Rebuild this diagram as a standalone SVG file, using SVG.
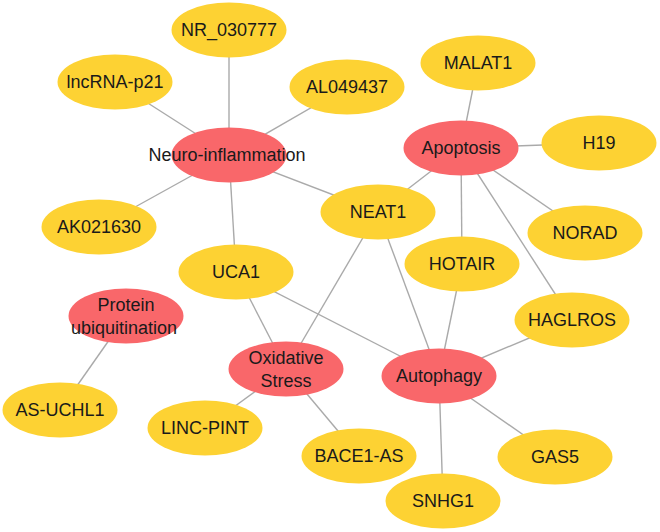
<svg xmlns="http://www.w3.org/2000/svg" width="660" height="532" viewBox="0 0 660 532">
<style>
.e{stroke:#aaaaaa;stroke-width:1.4;fill:none}
.y{fill:#fdd233}
.r{fill:#f9676a}
text{font-family:"Liberation Sans",Arial,sans-serif;font-size:18px;fill:#1a1a1a;text-anchor:middle;dominant-baseline:central}
</style>
<rect width="660" height="532" fill="#ffffff"/>
<g id="edges">
<line class="e" x1="229" y1="155" x2="229" y2="30"/>
<line class="e" x1="229" y1="155" x2="115" y2="82"/>
<line class="e" x1="229" y1="155" x2="347" y2="87"/>
<line class="e" x1="229" y1="155" x2="99" y2="227"/>
<line class="e" x1="229" y1="155" x2="236" y2="272"/>
<line class="e" x1="229" y1="155" x2="378" y2="212"/>
<line class="e" x1="461" y1="148" x2="478" y2="63"/>
<line class="e" x1="461" y1="148" x2="599" y2="143"/>
<line class="e" x1="461" y1="148" x2="378" y2="212"/>
<line class="e" x1="461" y1="148" x2="462" y2="264"/>
<line class="e" x1="461" y1="148" x2="585" y2="233"/>
<line class="e" x1="461" y1="148" x2="572" y2="320"/>
<line class="e" x1="439" y1="376" x2="378" y2="212"/>
<line class="e" x1="439" y1="376" x2="462" y2="264"/>
<line class="e" x1="439" y1="376" x2="572" y2="320"/>
<line class="e" x1="439" y1="376" x2="236" y2="272"/>
<line class="e" x1="439" y1="376" x2="555" y2="457"/>
<line class="e" x1="439" y1="376" x2="443" y2="501"/>
<line class="e" x1="286" y1="369" x2="236" y2="272"/>
<line class="e" x1="286" y1="369" x2="378" y2="212"/>
<line class="e" x1="286" y1="369" x2="205" y2="428"/>
<line class="e" x1="286" y1="369" x2="359" y2="456"/>
<line class="e" x1="126" y1="316" x2="60" y2="410"/>
</g>
<g id="n-nr030777"><ellipse class="y" cx="229" cy="30" rx="57.5" ry="27.5"/><text x="229" y="30">NR_030777</text></g>
<g id="n-lncrna-p21"><ellipse class="y" cx="115" cy="82" rx="57.5" ry="27.5"/><text x="115" y="82">lncRNA-p21</text></g>
<g id="n-al049437"><ellipse class="y" cx="347" cy="87" rx="57.5" ry="27.5"/><text x="347" y="87">AL049437</text></g>
<g id="n-ak021630"><ellipse class="y" cx="99" cy="227" rx="57.5" ry="27.5"/><text x="99" y="227">AK021630</text></g>
<g id="n-neuro"><ellipse class="r" cx="229" cy="155" rx="57.5" ry="27.5"/><text x="227" y="155">Neuro-inflammation</text></g>
<g id="n-uca1"><ellipse class="y" cx="236" cy="272" rx="57.5" ry="27.5"/><text x="236" y="272">UCA1</text></g>
<g id="n-neat1"><ellipse class="y" cx="378" cy="212" rx="57.5" ry="27.5"/><text x="378" y="212">NEAT1</text></g>
<g id="n-malat1"><ellipse class="y" cx="478" cy="63" rx="57.5" ry="27.5"/><text x="478" y="63">MALAT1</text></g>
<g id="n-h19"><ellipse class="y" cx="599" cy="143" rx="57.5" ry="27.5"/><text x="599" y="143">H19</text></g>
<g id="n-apoptosis"><ellipse class="r" cx="461" cy="148" rx="57.5" ry="27.5"/><text x="461" y="148">Apoptosis</text></g>
<g id="n-norad"><ellipse class="y" cx="585" cy="233" rx="57.5" ry="27.5"/><text x="585" y="233">NORAD</text></g>
<g id="n-hotair"><ellipse class="y" cx="462" cy="264" rx="57.5" ry="27.5"/><text x="462" y="264">HOTAIR</text></g>
<g id="n-haglros"><ellipse class="y" cx="572" cy="320" rx="57.5" ry="27.5"/><text x="572" y="320">HAGLROS</text></g>
<g id="n-protein"><ellipse class="r" cx="126" cy="316" rx="57.5" ry="27.5"/><text x="126" y="305">Protein</text><text x="124" y="328">ubiquitination</text></g>
<g id="n-as-uchl1"><ellipse class="y" cx="60" cy="410" rx="57.5" ry="27.5"/><text x="60" y="410">AS-UCHL1</text></g>
<g id="n-oxidative"><ellipse class="r" cx="286" cy="369" rx="57.5" ry="27.5"/><text x="286" y="358">Oxidative</text><text x="286" y="381">Stress</text></g>
<g id="n-autophagy"><ellipse class="r" cx="439" cy="376" rx="57.5" ry="27.5"/><text x="439" y="376">Autophagy</text></g>
<g id="n-linc-pint"><ellipse class="y" cx="205" cy="428" rx="57.5" ry="27.5"/><text x="205" y="428">LINC-PINT</text></g>
<g id="n-bace1-as"><ellipse class="y" cx="359" cy="456" rx="57.5" ry="27.5"/><text x="359" y="456">BACE1-AS</text></g>
<g id="n-gas5"><ellipse class="y" cx="555" cy="457" rx="57.5" ry="27.5"/><text x="555" y="457">GAS5</text></g>
<g id="n-snhg1"><ellipse class="y" cx="443" cy="501" rx="57.5" ry="27.5"/><text x="443" y="501">SNHG1</text></g>
</svg>
